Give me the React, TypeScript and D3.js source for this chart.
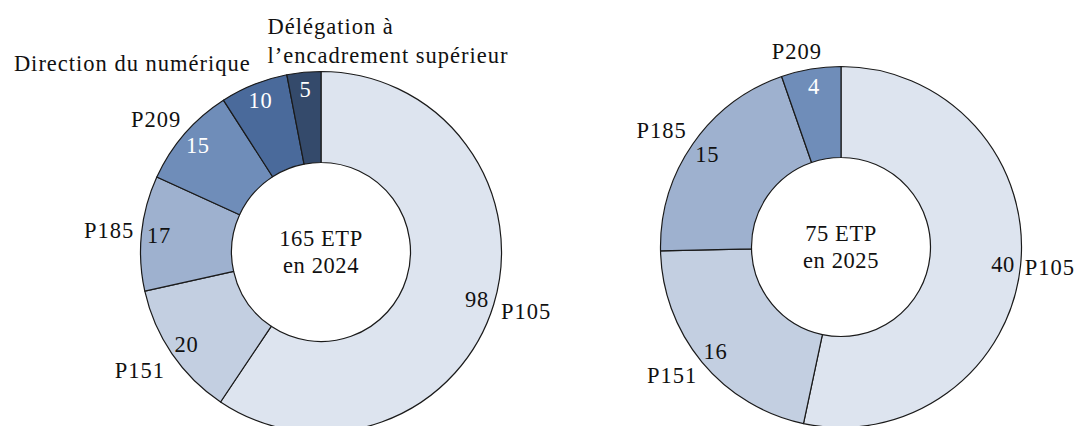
import React from "react";
import * as d3 from "d3";

// ---- Data ----
const categories2024 = ["P105", "P151", "P185", "P209", "Direction du numérique", "Délégation à|l’encadrement supérieur"];
const values2024 = [98, 20, 17, 15, 10, 5];
const categories2025 = ["P105", "P151", "P185", "P209"];
const values2025 = [40, 16, 15, 4];
const centerText2024 = ["165 ETP", "en 2024"];
const centerText2025 = ["75 ETP", "en 2025"];

// ---- Styles / layout (kept apart from data) ----
const W = 1075;
const H = 426;
const FONT = "'Liberation Serif', 'Times New Roman', serif";
const FS = 22.5;
const LS = 0.6;
const LS_CAT = 1.0;
const OUTER = 180.5;
const INNER = 89.5;
const VALUE_R = 163;
const CAT_R = 205;
const colors = ["#dde4ef", "#c3cfe1", "#9eb1cf", "#6f8db9", "#4a6a9b", "#344a6b"];
const valueTextColors = ["#111", "#111", "#111", "#ffffff", "#ffffff", "#ffffff"];
const valueTextColors2025 = ["#111", "#111", "#111", "#ffffff"];

type Nudge = { dx: number; dy: number[]; anchor: "start" | "middle" | "end" };
const nudges2024: Nudge[] = [
  { dx: 9, dy: [0], anchor: "middle" },
  { dx: -12, dy: [3], anchor: "middle" },
  { dx: -8, dy: [0], anchor: "middle" },
  { dx: -10, dy: [2], anchor: "middle" },
  { dx: 6, dy: [2], anchor: "end" },
  { dx: -34, dy: [-21.5, 7], anchor: "start" },
];
const nudges2025: Nudge[] = [
  { dx: 5, dy: [-1], anchor: "middle" },
  { dx: -11, dy: [-2], anchor: "middle" },
  { dx: -11, dy: [0], anchor: "middle" },
  { dx: -10, dy: [6], anchor: "middle" },
];

function Donut({
  cx, cy, cats, vals, nudges, center, valueColors,
}: {
  cx: number; cy: number; cats: string[]; vals: number[]; nudges: Nudge[]; center: string[]; valueColors: string[];
}) {
  const pie = d3.pie<number>().sort(null).value((d) => d)(vals);
  const arc = d3.arc<d3.PieArcDatum<number>>().innerRadius(INNER).outerRadius(OUTER);
  const base = FS * 0.34;
  const dir = (a: number) => [Math.sin(a), -Math.cos(a)];
  return (
    <g transform={`translate(${cx},${cy})`}>
      {pie.map((p, i) => (
        <path key={"s" + i} d={arc(p) || ""} fill={colors[i]} stroke="#1a1a1a" strokeWidth={1.2} strokeLinejoin="round" />
      ))}
      {pie.map((p, i) => {
        const m = (p.startAngle + p.endAngle) / 2;
        const [ux, uy] = dir(m);
        return (
          <text key={"v" + i} x={ux * VALUE_R} y={uy * VALUE_R + base} textAnchor="middle"
            fill={valueColors[i]} fontSize={FS} fontFamily={FONT} letterSpacing={LS}>
            {vals[i]}
          </text>
        );
      })}
      {pie.map((p, i) => {
        const m = (p.startAngle + p.endAngle) / 2;
        const [ux, uy] = dir(m);
        const n = nudges[i];
        const lines = cats[i].split("|");
        return (
          <text key={"c" + i} textAnchor={n.anchor} fill="#111" fontSize={FS} fontFamily={FONT} letterSpacing={LS_CAT}>
            {lines.map((l, j) => (
              <tspan key={j} x={ux * CAT_R + n.dx} y={uy * CAT_R + n.dy[j] + base}>{l}</tspan>
            ))}
          </text>
        );
      })}
      {center.map((t, j) => (
        <text key={"t" + j} x={0} y={(j === 0 ? -13.5 : 13.5) + base} textAnchor="middle"
          fill="#111" fontSize={FS} fontFamily={FONT} letterSpacing={LS}>
          {t}
        </text>
      ))}
    </g>
  );
}

export default function App() {
  return (
    <svg width={W} height={H} viewBox={`0 0 ${W} ${H}`}
      style={{ position: "absolute", left: 0, top: 0, background: "#fff", display: "block" }}>
      <rect width={W} height={H} fill="#fff" />
      <Donut cx={321} cy={252} cats={categories2024} vals={values2024} nudges={nudges2024}
        center={centerText2024} valueColors={valueTextColors} />
      <Donut cx={841} cy={247} cats={categories2025} vals={values2025} nudges={nudges2025}
        center={centerText2025} valueColors={valueTextColors2025} />
    </svg>
  );
}
